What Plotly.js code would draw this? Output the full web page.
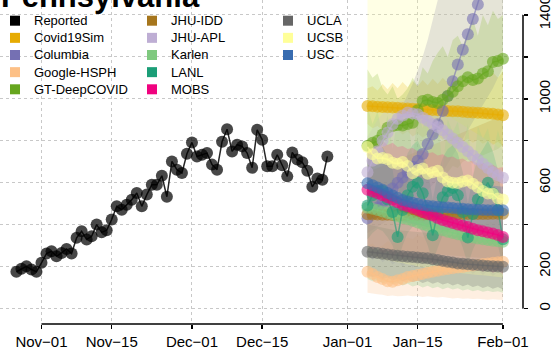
<!DOCTYPE html>
<html>
<head>
<meta charset="utf-8">
<script src="https://cdn.plot.ly/plotly-3.0.1.min.js"></script>
<style>html,body{margin:0;padding:0;background:#fff;}#chart{width:556px;height:360px;}</style>
</head>
<body>
<div id="chart"></div>
<script>
// ---------------- data ----------------
const chartTitle = 'Pennsylvania';
const reportedStart = '2020-10-27';
const reportedValues = [175,190,201,186,175,218,262,273,249,265,284,262,337,368,329,344,400,363,373,424,
  487,471,495,519,551,487,543,590,590,633,533,701,662,646,738,792,725,733,741,686,662,795,855,749,781,773,
  741,671,852,805,678,678,733,683,630,744,710,697,657,580,620,614,725];

const forecastStart = '2021-01-05';
const models = ['Covid19Sim','Columbia','Google-HSPH','GT-DeepCOVID','JHU-IDD','JHU-APL','Karlen','LANL','MOBS','UCLA','UCSB','USC'];
const modelColors = ['#E6AB02','#7570B3','#FDC086','#66A61E','#A6761D','#BEAED4','#7FC97F','#1B9E77','#F0027F','#666666','#FFFF99','#386CB0'];

const median = {
  'Covid19Sim': [965,964,962,961,960,958,957,955,954,952,951,950,948,947,945,944,942,941,940,938,936,935,933,932,930,928,925,921],
  'Columbia': [430,455,482,510,540,572,600,625,650,676,705,737,784,831,879,942,1013,1084,1163,1234,1308,1380,1450,1530,1610,1700,1790,1890],
  'Google-HSPH': [175,165,150,140,130,128,135,140,150,155,160,165,170,175,180,185,188,192,195,198,202,205,208,212,215,218,220,223],
  'GT-DeepCOVID': [776,790,800,830,862,870,875,872,880,886,945,989,995,985,980,995,1013,1033,1060,1084,1103,1090,1097,1120,1131,1175,1180,1191],
  'JHU-IDD': [449,448,448,447,447,446,446,446,446,447,447,447,448,448,448,448,449,449,449,450,450,450,451,451,451,452,452,452],
  'JHU-APL': [650,705,750,800,839,879,905,920,934,930,926,910,895,880,865,850,830,810,790,770,750,730,710,690,670,650,635,623],
  'Karlen': [480,475,470,462,455,448,440,432,425,418,410,402,395,388,380,373,366,360,354,348,343,338,334,330,326,323,320,318],
  'LANL': [491,540,560,560,520,460,341,470,540,580,600,550,470,349,460,530,560,575,540,460,338,450,520,560,600,550,470,330],
  'MOBS': [566,558,550,540,530,519,507,495,487,480,471,460,452,443,432,422,415,408,400,395,388,380,373,368,362,357,350,341],
  'UCLA': [270,267,264,261,258,254,251,249,247,245,243,241,239,235,231,227,223,219,215,213,211,209,207,205,203,201,200,199],
  'UCSB': [770,735,715,718,712,695,690,698,680,645,660,668,642,650,657,625,605,600,598,605,610,595,578,560,548,547,525,520],
  'USC': [597,588,577,566,551,539,528,517,510,504,499,494,490,487,485,483,481,479,477,475,473,472,471,470,469,469,468,468]
};
const lower = {
  'Covid19Sim': [880,860,870,850,860,840,850,830,845,820,835,815,830,810,825,805,820,800,815,795,810,790,805,785,800,780,795,775],
  'Columbia': [360,375,390,405,420,440,455,470,485,500,520,540,565,590,615,650,690,730,770,810,850,890,930,970,1010,1050,1100,1150],
  'Google-HSPH': [75,70,68,65,60,62,58,60,62,58,60,55,58,55,52,55,50,48,50,46,48,45,46,44,42,44,42,40],
  'GT-DeepCOVID': [480,500,490,520,540,530,560,550,580,570,600,620,610,640,630,660,650,680,670,700,710,690,720,730,740,750,760,780],
  'JHU-IDD': [300,295,290,285,282,278,275,272,270,268,266,264,262,260,258,256,254,252,250,248,246,244,242,240,238,236,234,232],
  'JHU-APL': [260,230,250,220,240,210,230,200,225,195,215,190,210,185,205,180,200,175,195,170,190,165,185,160,180,155,175,150],
  'Karlen': [140,130,135,120,128,115,122,110,118,105,112,100,108,96,104,92,100,90,96,86,92,82,88,80,85,78,82,75],
  'LANL': [330,360,380,370,340,300,220,300,360,390,400,360,300,220,290,350,370,380,350,290,210,280,330,360,390,350,300,200],
  'MOBS': [300,280,290,260,275,250,265,240,255,230,245,220,235,210,225,200,215,195,205,185,198,180,190,175,185,170,180,165],
  'UCLA': [160,150,155,140,148,135,142,130,138,126,134,122,130,118,126,114,122,110,118,106,114,102,110,98,106,94,102,90],
  'UCSB': [260,250,240,235,230,225,220,215,210,205,200,195,190,185,180,178,175,172,170,168,165,162,160,158,155,152,150,148],
  'USC': [470,462,455,448,440,432,424,416,410,404,398,392,388,384,380,377,374,371,368,365,362,360,358,356,354,352,350,348]
};
const upper = {
  'Covid19Sim': [1050,1060,1040,1070,1045,1075,1050,1080,1055,1085,1060,1090,1065,1095,1070,1100,1075,1105,1080,1110,1085,1115,1090,1120,1095,1125,1100,1130],
  'Columbia': [640,680,720,770,820,870,920,970,1020,1070,1130,1200,1280,1370,1470,1580,1700,1830,1970,2120,2280,2440,2600,2800,3000,3200,3400,3600],
  'Google-HSPH': [300,310,290,300,320,310,330,320,340,330,350,340,360,350,370,360,380,370,390,380,400,390,410,400,420,410,430,420],
  'GT-DeepCOVID': [1140,1100,1120,1050,1020,1060,1000,1020,1050,1100,1060,1150,1120,1180,1220,1250,1200,1280,1300,1250,1320,1380,1300,1400,1350,1420,1380,1400],
  'JHU-IDD': [650,660,670,680,690,700,710,720,730,740,750,760,770,780,790,800,810,820,830,840,850,860,870,880,890,900,910,920],
  'JHU-APL': [820,860,900,930,950,970,985,990,995,990,985,975,965,955,945,935,920,905,890,875,860,845,830,815,800,785,770,760],
  'Karlen': [960,880,940,820,920,760,910,840,940,700,930,860,920,780,910,660,900,840,890,760,880,620,870,810,860,740,850,760],
  'LANL': [700,740,760,770,730,660,520,650,740,780,800,750,660,520,640,720,760,780,740,650,500,630,720,760,800,750,660,500],
  'MOBS': [800,810,790,800,780,790,770,775,760,765,750,755,740,745,730,735,720,725,710,715,700,705,690,695,680,685,670,675],
  'UCLA': [400,395,390,385,380,375,370,368,366,364,362,360,358,356,354,352,350,348,346,344,342,340,338,336,334,332,330,328],
  'UCSB': [2000,2000,2000,2000,2000,2000,2000,2000,2000,2000,2000,2000,2000,2000,2000,2000,2000,2000,2000,2000,2000,2000,2000,2000,2000,2000,2000,2000],
  'USC': [740,730,720,710,700,690,680,670,662,655,648,642,636,630,625,620,616,612,608,604,600,597,594,591,588,585,582,580]
};

const xTickVals = ['2020-11-01','2020-11-15','2020-12-01','2020-12-15','2021-01-01','2021-01-15','2021-02-01'];
const xTickText = ['Nov\u221201','Nov\u221215','Dec\u221201','Dec\u221215','Jan\u221201','Jan\u221215','Feb\u221201'];
const yTickVals = [0,200,400,600,800,1000,1200,1400];
const yTickText = ['0','200','','600','','1000','','1400'];

// ---------------- helpers ----------------
function dayList(start, n) {
  const out = [];
  const d0 = new Date(start + 'T00:00:00Z');
  for (let i = 0; i < n; i++) {
    const d = new Date(d0.getTime() + i * 86400000);
    out.push(d.toISOString().slice(0, 10));
  }
  return out;
}
function rgba(hex, a) {
  const r = parseInt(hex.slice(1,3),16), g = parseInt(hex.slice(3,5),16), b = parseInt(hex.slice(5,7),16);
  return 'rgba(' + r + ',' + g + ',' + b + ',' + a + ')';
}

const W = 556, H = 360, ML = 0, MR = 33, MT = 0, MB = 36;
const PW = W - ML - MR, PH = H - MT - MB;
const reportedDates = dayList(reportedStart, reportedValues.length);
const fDates = dayList(forecastStart, 28);
const FONT = 'Liberation Sans, Arial, Helvetica, sans-serif';

const traces = [];
// ribbons
models.forEach((m, i) => {
  traces.push({
    x: fDates.concat(fDates.slice().reverse()),
    y: lower[m].concat(upper[m].slice().reverse()),
    type: 'scatter', mode: 'lines', fill: 'toself',
    fillcolor: rgba(modelColors[i], 0.25), line: {width: 0, color: 'rgba(0,0,0,0)'},
    hoverinfo: 'skip', showlegend: false, name: m + ' interval'
  });
});
// reported
traces.push({
  x: reportedDates, y: reportedValues, type: 'scatter', mode: 'lines+markers', name: 'Reported',
  line: {color: 'rgba(0,0,0,0.85)', width: 1.5},
  marker: {color: 'rgba(0,0,0,0.72)', size: 12, line: {width: 0}},
  showlegend: false
});
// medians
models.forEach((m, i) => {
  traces.push({
    x: fDates, y: median[m], type: 'scatter', mode: 'lines+markers', name: m,
    line: {color: rgba(modelColors[i], 0.6), width: 1.5},
    marker: {color: rgba(modelColors[i], 0.6), size: 12, line: {width: 0}},
    showlegend: false
  });
});

// legend (3 columns, column-major) drawn as swatches + labels
const legendNames = ['Reported'].concat(models);
const legendColors = ['#000000'].concat(modelColors);
const legColX = [15, 152, 288];      // swatch centre, px from plot left
const legRow0 = 20.7, legRowH = 17.15, legSw = 10, legTextGap = 18;
const shapes = [];
const annotations = [];
legendNames.forEach((n, i) => {
  const col = Math.floor(i / 5), row = i % 5;
  const cx = legColX[col], cy = legRow0 + row * legRowH;
  shapes.push({type: 'rect', xref: 'paper', yref: 'paper',
    x0: (cx - legSw/2) / PW, x1: (cx + legSw/2) / PW,
    y0: 1 - (cy + legSw/2) / PH, y1: 1 - (cy - legSw/2) / PH,
    fillcolor: legendColors[i], line: {width: 0}, layer: 'above'});
  annotations.push({text: n, xref: 'paper', yref: 'paper', x: (cx + legTextGap) / PW, y: 1 - cy / PH,
    xanchor: 'left', yanchor: 'middle', showarrow: false, borderpad: 0,
    font: {family: FONT, size: 13, color: '#000'}});
});
// chart title (top of figure is cropped in the reference)
annotations.push({text: chartTitle, xref: 'paper', yref: 'paper', x: 0, y: 1, xanchor: 'left', yanchor: 'middle',
  yshift: 4, showarrow: false, borderpad: 0, font: {family: FONT, size: 31, weight: 'bold', color: '#000'}});

// axis lines spanning first..last tick (base-graphics style)
shapes.push({type: 'line', xref: 'x', yref: 'paper', x0: xTickVals[0], x1: xTickVals[xTickVals.length-1], y0: 0, y1: 0,
  line: {color: '#000', width: 1.5}, layer: 'above'});
shapes.push({type: 'line', xref: 'paper', yref: 'y', x0: 1, x1: 1, y0: yTickVals[0], y1: yTickVals[yTickVals.length-1],
  line: {color: '#000', width: 1.5}, layer: 'above'});

const layout = {
  width: W, height: H,
  margin: {l: ML, r: MR, t: MT, b: MB, pad: 0},
  paper_bgcolor: '#fff', plot_bgcolor: '#fff',
  font: {family: FONT, size: 15, color: '#000'},
  xaxis: {type: 'date', range: ['2020-10-23 17:30', '2021-02-05'],
    tickvals: xTickVals, ticktext: xTickText, ticks: 'outside', ticklen: 4, tickwidth: 1.5, tickcolor: '#000',
    showline: false, zeroline: false, showgrid: true, gridcolor: '#c8c8c8', griddash: 'dot', gridwidth: 1,
    tickfont: {family: FONT, size: 15}, fixedrange: true, automargin: false},
  yaxis: {range: [-74, 1471], side: 'right', tickvals: yTickVals, ticktext: yTickText,
    ticks: 'outside', ticklen: 4, tickwidth: 1.5, tickcolor: '#000', tickangle: -90,
    showline: false, zeroline: false, showgrid: true, gridcolor: '#c8c8c8', griddash: 'dot', gridwidth: 1,
    tickfont: {family: FONT, size: 15}, ticklabelstandoff: 4, ticklabeloverflow: 'allow',
    fixedrange: true, automargin: false},
  shapes: shapes,
  annotations: annotations,
  showlegend: false, hovermode: false
};

Plotly.newPlot('chart', traces, layout, {displayModeBar: false, staticPlot: true});
</script>
</body>
</html>
